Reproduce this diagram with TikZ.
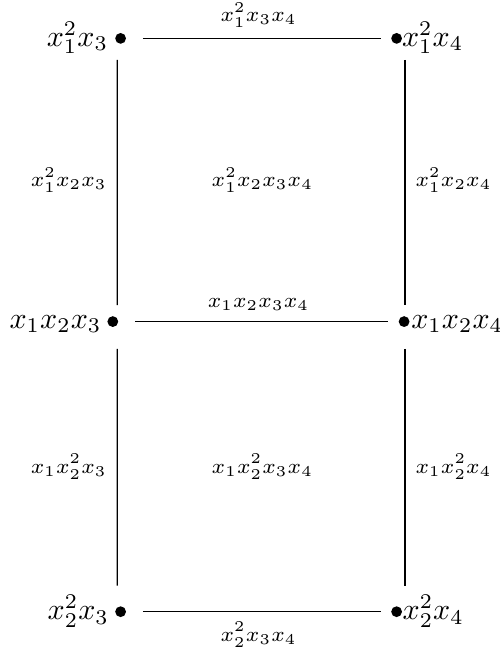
\documentclass[tikz,border=0pt]{standalone}
\usepackage{amsmath,amssymb}
\usetikzlibrary{positioning,calc}

\tikzset{
  dot/.style={circle, fill, inner sep=0pt, minimum size=3.6pt},
  vlab/.style={inner sep=0pt},
  elab/.style={font=\scriptsize},
  hedge/.style={line width=0.4pt, shorten <=7.4pt, shorten >=5.3pt},
  vedge/.style={line width=0.4pt},
}

\begin{document}
\begin{tikzpicture}
  \useasboundingbox (0,0) rectangle (166.33pt,216pt);
  % vertices
  \node[dot] (tl) at (40.2pt,203.2pt) {};
  \node[dot] (tr) at (132.2pt,203.2pt) {};
  \node[dot] (ml) at (37.6pt,108.8pt) {};
  \node[dot] (mr) at (134.7pt,108.8pt) {};
  \node[dot] (bl) at (40.2pt,12.1pt) {};
  \node[dot] (br) at (132.2pt,12.1pt) {};
  % vertex labels
  \node[vlab, anchor=base east] (tllab) at ([xshift=-4pt,yshift=-2.7pt]tl.center) {$x_1^2x_3$};
  \node[vlab, anchor=base west] (trlab) at ([xshift=1.6pt,yshift=-2.7pt]tr.center) {$x_1^2x_4$};
  \node[vlab, anchor=base east] (mllab) at ([xshift=-3.6pt,yshift=-2.3pt]ml.center) {$x_1x_2x_3$};
  \node[vlab, anchor=base west] (mrlab) at ([xshift=2.2pt,yshift=-2.3pt]mr.center) {$x_1x_2x_4$};
  \node[vlab, anchor=base east] (bllab) at ([xshift=-3.7pt,yshift=-2.7pt]bl.center) {$x_2^2x_3$};
  \node[vlab, anchor=base west] (brlab) at ([xshift=1.8pt,yshift=-2.7pt]br.center) {$x_2^2x_4$};
  % horizontal edges
  \draw[hedge] (tl.center) -- node[midway, above, elab] {$x_1^2x_3x_4$} (tr.center);
  \draw[hedge] (ml.center) -- node[midway, above, elab] {$x_1x_2x_3x_4$} (mr.center);
  \draw[hedge] (bl.center) -- node[midway, below, elab] {$x_2^2x_3x_4$} (br.center);
  % vertical edges
  \draw[vedge, shorten <=7.2pt, shorten >=5.5pt] ([xshift=-1.1pt]tl.center) -- node[midway, left, elab] {$x_1^2x_2x_3$} ([xshift=1.5pt]ml.center);
  \draw[vedge, shorten <=9.1pt, shorten >=8.7pt] ([xshift=1.5pt]ml.center) -- node[midway, left, elab] {$x_1x_2^2x_3$} ([xshift=-1.1pt]bl.center);
  \draw[vedge, shorten <=7.2pt, shorten >=5.5pt] ([xshift=2.8pt]tr.center) -- node[midway, right, elab] {$x_1^2x_2x_4$} ([xshift=0.3pt]mr.center);
  \draw[vedge, shorten <=9.1pt, shorten >=8.7pt] ([xshift=0.3pt]mr.center) -- node[midway, right, elab] {$x_1x_2^2x_4$} ([xshift=2.8pt]br.center);
  % faces
  \node[elab] (topface) at ($(tl)!.5!(mr)$) {$x_1^2x_2x_3x_4$};
  \node[elab] (botface) at ($(bl)!.5!(mr)$) {$x_1x_2^2x_3x_4$};
\end{tikzpicture}
\end{document}
